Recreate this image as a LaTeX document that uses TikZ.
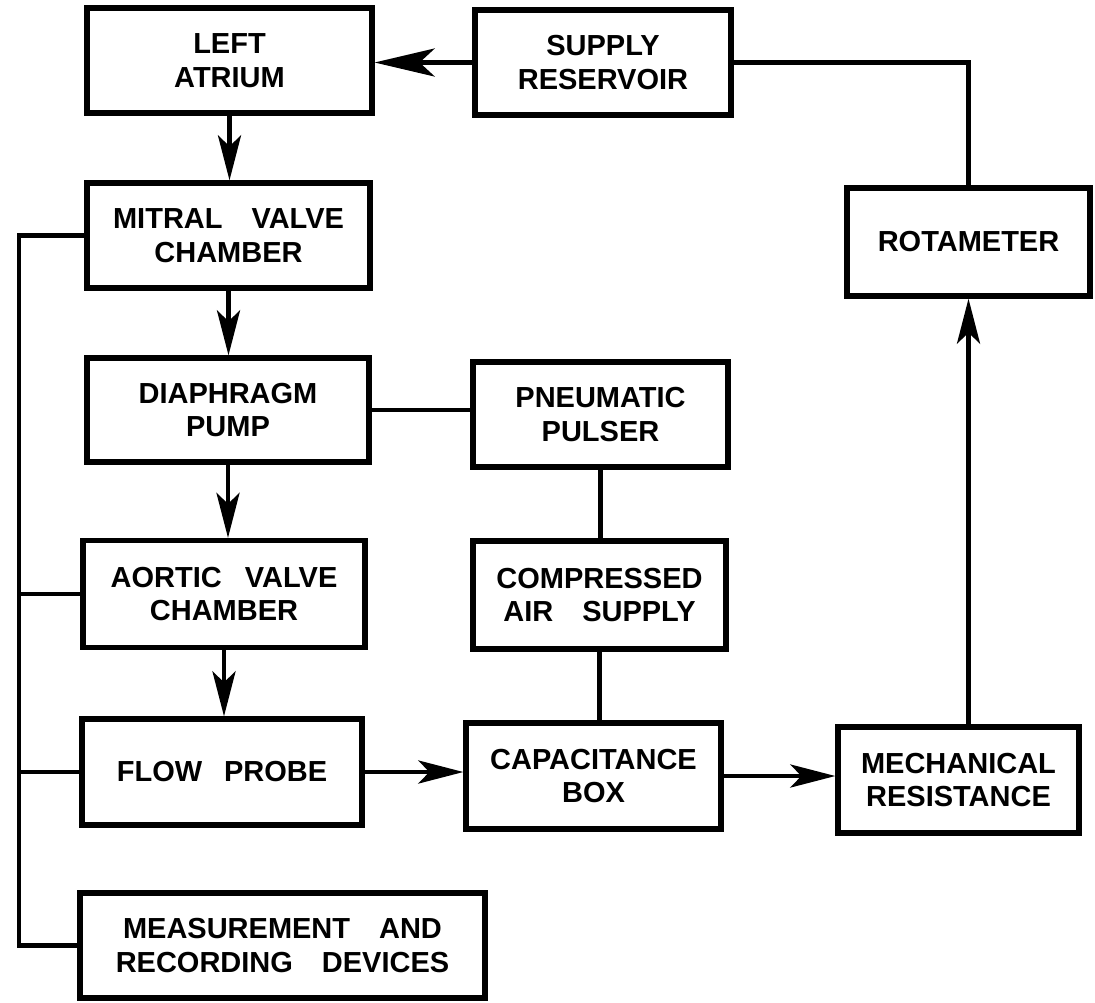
\documentclass[tikz,border=0pt]{standalone}
\usepackage{fontspec}
\setmainfont{Liberation Sans}
\usetikzlibrary{arrows.meta}

\tikzset{
  box/.style={draw, line width=3pt, align=center, inner sep=0pt,
    font=\bfseries\fontsize{16.5}{19}\selectfont},
  link/.style={line width=2.8pt},
  flow/.style={link, -{Stealth[length=0.9cm, width=0.46cm, inset=0.22cm]}},
  bigflow/.style={link, -{Stealth[length=1.2cm, width=0.56cm, inset=0.3cm]}},
}

\begin{document}
\begin{tikzpicture}[x=0.02cm, y=-0.02cm]
            \useasboundingbox (0,0) rectangle (1095,1002);

            % Draw the boxes
            \node[box, minimum width=5.7cm, minimum height=2.1cm] (latrium) at (229.5,60.5) {LEFT\\ATRIUM};
            \node[box, minimum width=5.12cm, minimum height=2.1cm] (supply) at (603,62.5) {SUPPLY\\RESERVOIR};
            \node[box, minimum width=5.66cm, minimum height=2.1cm] (mitral) at (228.5,235.5) {MITRAL\quad VALVE\\CHAMBER};
            \node[box, minimum width=4.86cm, minimum height=2.16cm] (rotameter) at (968.5,242) {ROTAMETER};
            \node[box, minimum width=5.64cm, minimum height=2.08cm] (diaphragm) at (228,410) {DIAPHRAGM\\PUMP};
            \node[box, minimum width=5.1cm, minimum height=2.1cm] (pulser) at (600.5,414.5) {PNEUMATIC\\PULSER};
            \node[box, minimum width=5.64cm, minimum height=2.14cm] (aortic) at (224,594) {AORTIC\hspace{0.8em}VALVE\\CHAMBER};
            \node[box, minimum width=5.06cm, minimum height=2.16cm] (compressed) at (599.5,595) {COMPRESSED\\AIR\quad SUPPLY};
            \node[box, minimum width=5.6cm, minimum height=2.12cm] (probe) at (222,772) {FLOW\hspace{0.75em}PROBE};
            \node[box, minimum width=5.1cm, minimum height=2.12cm] (capacitance) at (593.5,776) {CAPACITANCE\\BOX};
            \node[box, minimum width=4.82cm, minimum height=2.12cm] (mechanical) at (958.5,780) {MECHANICAL\\RESISTANCE};
            \node[box, minimum width=8.1cm, minimum height=2.1cm] (measure) at (282.5,945.5) {MEASUREMENT\quad AND\\RECORDING\quad DEVICES};

            \coordinate (bus) at (19,0);

            % Draw the main flow loop
            \draw[bigflow] (supply.west) -- (latrium.east |- supply.west);
            \draw[flow] (latrium.south) -- (latrium.south |- mitral.north);
            \draw[flow] (mitral.south) -- (mitral.south |- diaphragm.north);
            \draw[flow] (diaphragm.south) -- (diaphragm.south |- aortic.north);
            \draw[flow] (aortic.south) -- (aortic.south |- probe.north);
            \draw[flow] (probe.east) -- (probe.east -| capacitance.west);
            \draw[flow] (capacitance.east) -- (capacitance.east -| mechanical.west);
            \draw[flow] (rotameter.south |- mechanical.north) -- (rotameter.south);
            \draw[link] (supply.east) -| (rotameter.north);

            % Draw the pulser lines
            \draw[link] (diaphragm.east) -- (diaphragm.east -| pulser.west);
            \draw[link] (pulser.south) -- (pulser.south |- compressed.north);
            \draw[link] (compressed.south) -- (compressed.south |- capacitance.north);

            % Draw the measurement bus
            \draw[link] (mitral.west) -| (bus |- measure.west) -- (measure.west);
            \draw[link] (aortic.west) -- (aortic.west -| bus);
            \draw[link] (probe.west) -- (probe.west -| bus);

\end{tikzpicture}
\end{document}
